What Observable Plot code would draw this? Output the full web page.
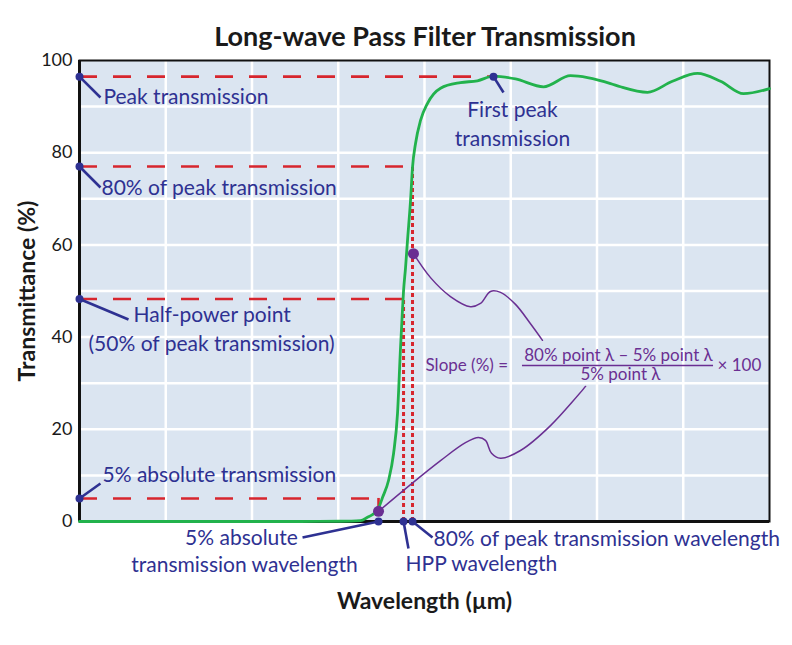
<!DOCTYPE html>
<html><head><meta charset="utf-8">
<script src="https://cdn.jsdelivr.net/npm/d3@7"></script>
<script src="https://cdn.jsdelivr.net/npm/@observablehq/plot@0.6"></script>
<style>
body{margin:0;background:#fff;}
#wrap{position:relative;width:792px;height:645px;}
#title{position:absolute;left:0;top:21px;width:792px;padding-left:58px;box-sizing:border-box;text-align:center;font-family:Lato,sans-serif;font-weight:700;font-size:27px;line-height:30px;color:#1a1a1a;z-index:2;}
</style></head><body>
<div id="wrap"><div id="title">Long-wave Pass Filter Transmission</div><div id="chart"></div></div>
<script>
// ---- transmission curve (wavelength in grid units, transmittance %) ----
const curveX = [0, 2.562, 3.026, 3.258, 3.339, 3.397, 3.455, 3.513, 3.583, 3.641, 3.687, 3.722, 3.745, 3.757, 3.780, 3.803, 3.838, 3.861, 3.896, 3.954, 4.035, 4.186, 4.417, 4.614, 4.800, 5.055, 5.380, 5.693, 6.157, 6.272, 6.586, 6.875, 7.165, 7.432, 7.699, 8.0];
const curveY = [0, 0, 0.05, 0.2, 0.9, 1.5, 2.4, 5.2, 8.9, 14.7, 23.4, 37.7, 46, 50, 55, 61, 69.6, 76.8, 82, 87, 90.7, 94, 95.2, 95.6, 96.6, 96.0, 94.3, 96.7, 95.0, 94.3, 93.1, 95.5, 97.2, 95.5, 92.8, 93.9];

// ---- axes ----
const yTicks = [0, 20, 40, 60, 80, 100];
const xGrid = [1, 2, 3, 4, 5, 6, 7];
const yGrid = [10, 20, 30, 40, 50, 60, 70, 80, 90];

// ---- key levels and wavelengths ----
const levels = [96.5, 77, 48.25, 5];          // peak, 80% of peak, half power, 5% absolute
const levelEnds = [4.8, 3.861, 3.757, 3.467];  // where each dashed line stops
const wlMarks = [3.467, 3.757, 3.861];         // 5% abs, HPP, 80% wavelengths
const wlTops = [5, 48.25, 77];

// ---- annotation labels ----
const labelText = ["Peak transmission", "80% of peak transmission", "Half-power point", "(50% of peak transmission)", "5% absolute transmission", "First peak", "transmission", "5% absolute", "transmission wavelength", "HPP wavelength", "80% of peak transmission wavelength"];
const labelX = [0.278, 0.255, 0.626, 0.104, 0.267, 5.02, 5.02, 1.878, 1.913, 3.78, 4.104];
const labelY = [90.67, 70.72, 43.17, 37.09, 8.46, 87.64, 81.56, -4.99, -11.06, -10.63, -5.21];
const labelAnchor = ["start", "start", "start", "start", "start", "middle", "middle", "middle", "middle", "start", "start"];

// ---- leader lines (from marker to label) ----
const leadX1 = [0, 0, 0, 0, 4.8, 3.467, 3.757, 3.861];
const leadY1 = [96.5, 77, 48.25, 5, 96.5, 0, 0, 0];
const leadX2 = [0.243, 0.243, 0.568, 0.243, 4.916, 2.586, 3.814, 4.093];
const leadY2 = [91.97, 72.45, 43.82, 8.24, 93.06, -3.47, -5.86, -3.47];

// ---- purple call-out curves ----
const call1X = [3.872, 4.070, 4.301, 4.533, 4.649, 4.765, 4.881, 5.055, 5.229, 5.368];
const call1Y = [58.1, 52.9, 48.8, 46.6, 47.3, 49.9, 49.7, 47.1, 42.9, 39.3];
const call2X = [3.467, 3.838, 4.186, 4.475, 4.626, 4.707, 4.777, 4.881, 5.113, 5.461, 5.867];
const call2Y = [2.2, 8.0, 13.2, 17.1, 18.2, 17.6, 14.8, 13.7, 15.4, 20.8, 29.3];
const purpleDotX = [3.467, 3.872];
const purpleDotY = [2.2, 58.1];

// ---- formula ----
const formulaText = ["Slope (%) =", "80% point λ – 5% point λ", "5% point λ", "× 100"];
const formulaX = [4.012, 6.249, 6.272, 7.397];
const formulaY = [32.75, 34.92, 30.59, 32.75];
const formulaAnchor = ["start", "middle", "middle", "start"];
const barY = 33.84, barX1 = 5.136, barX2 = 7.351;

const BLUE = "#2e3192", RED = "#d7262e", GREEN = "#22b24c", PURPLE = "#6a2f92", INK = "#1a1a1a";

const curve = curveX.map((x, i) => ({x, y: curveY[i]}));
const call1 = call1X.map((x, i) => ({x, y: call1Y[i]}));
const call2 = call2X.map((x, i) => ({x, y: call2Y[i]}));
const labels = labelText.map((t, i) => ({t, x: labelX[i], y: labelY[i], a: labelAnchor[i]}));
const leads = leadX1.map((x1, i) => ({x1, y1: leadY1[i], x2: leadX2[i], y2: leadY2[i]}));
const blueDots = leadX1.map((x, i) => ({x, y: leadY1[i]}));
const formula = formulaText.map((t, i) => ({t, x: formulaX[i], y: formulaY[i], a: formulaAnchor[i]}));

const textBy = (data, anchor, opts) => Plot.text(data, {x: "x", y: "y", text: "t", filter: d => d.a === anchor, textAnchor: anchor, lineAnchor: "bottom", ...opts});

const chart = Plot.plot({
  width: 792, height: 645,
  marginLeft: 79, marginRight: 23, marginTop: 60, marginBottom: 124,
  x: {domain: [0, 8], axis: null},
  y: {domain: [0, 100]},
  style: {fontFamily: "Lato, sans-serif", fontSize: "18px", background: "transparent", overflow: "visible"},
  marks: [
    Plot.frame({fill: "#dbe5f1", stroke: null}),
    Plot.gridX(xGrid, {stroke: "#ffffff", strokeOpacity: 1, strokeWidth: 2.5}),
    Plot.gridY(yGrid, {stroke: "#ffffff", strokeOpacity: 1, strokeWidth: 2.5}),
    Plot.frame({stroke: "#111", strokeWidth: 2}),
    Plot.ruleX([0], {stroke: "#111", strokeWidth: 3}),
    Plot.ruleY([0], {stroke: "#111", strokeWidth: 3}),
    Plot.axisY(yTicks, {tickSize: 0, tickPadding: 7, fontSize: 18, fill: INK, label: null}),
    // dashed level lines
    Plot.ruleY(levels, {y: d => d, x1: 0, x2: levelEnds, stroke: RED, strokeWidth: 2.6, strokeDasharray: "18,16"}),
    Plot.ruleX(wlMarks.slice(1), {x: d => d, y1: 0, y2: wlTops.slice(1), stroke: RED, strokeWidth: 3, strokeDasharray: "4,3"}),
    Plot.ruleX([wlMarks[0]], {x: d => d, y1: purpleDotY[0], y2: wlTops[0], stroke: RED, strokeWidth: 2.6}),
    // curve
    Plot.line(curve, {x: "x", y: "y", stroke: GREEN, strokeWidth: 2.8, curve: "monotone-x"}),
    // purple call-outs
    Plot.line(call1, {x: "x", y: "y", stroke: PURPLE, strokeWidth: 1.5, curve: "catmull-rom"}),
    Plot.line(call2, {x: "x", y: "y", stroke: PURPLE, strokeWidth: 1.5, curve: "catmull-rom"}),
    Plot.dot(purpleDotX.map((x, i) => ({x, y: purpleDotY[i]})), {x: "x", y: "y", r: 5.5, fill: PURPLE}),
    // leaders + markers
    Plot.link(leads, {x1: "x1", y1: "y1", x2: "x2", y2: "y2", stroke: BLUE, strokeWidth: 2.6}),
    Plot.dot(blueDots, {x: "x", y: "y", r: 4, fill: BLUE}),
    // labels
    textBy(labels, "start", {fill: BLUE, fontSize: 21}),
    textBy(labels, "middle", {fill: BLUE, fontSize: 21}),
    // formula
    textBy(formula, "start", {fill: PURPLE, fontSize: 17}),
    textBy(formula, "middle", {fill: PURPLE, fontSize: 17}),
    Plot.ruleY([barY], {y: d => d, x1: barX1, x2: barX2, stroke: PURPLE, strokeWidth: 1.3}),
    // axis titles
    Plot.text(["Transmittance (%)"], {frameAnchor: "left", dx: -52, rotate: -90, textAnchor: "middle", fontSize: 23, fontWeight: "bold", fill: INK}),
    Plot.text(["Wavelength (µm)"], {frameAnchor: "bottom", dy: 87, textAnchor: "middle", lineAnchor: "bottom", fontSize: 23, fontWeight: "bold", fill: INK})
  ]
});
document.getElementById("chart").appendChild(chart);
</script>
</body></html>
